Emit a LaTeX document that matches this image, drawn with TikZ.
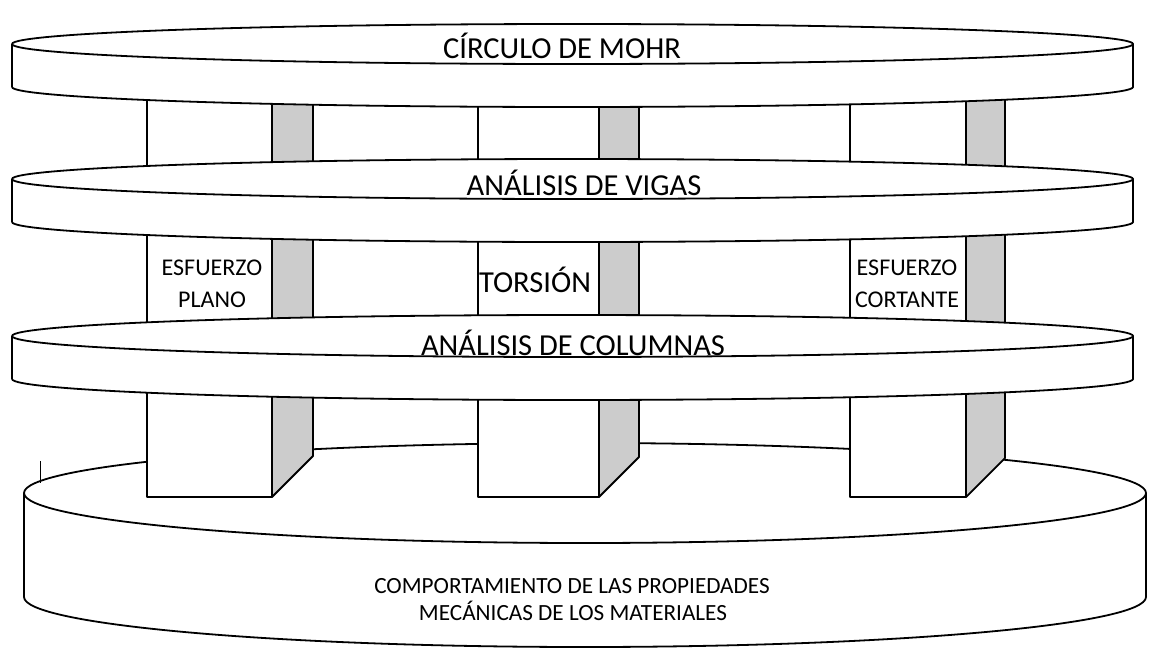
\documentclass[tikz,border=0pt]{standalone}
\usepackage{fontspec}
\setmainfont{Carlito}
\definecolor{sidegray}{HTML}{CCCCCC}
\newcommand\mydisk[5]{%
  \fill[white] (#1,#2+#5) ellipse[x radius=#3, y radius=#4];
  \fill[white] (#1-#3,#2) rectangle (#1+#3,#2+#5);
  \fill[white] (#1,#2) ellipse[x radius=#3, y radius=#4];
  \begin{scope}
    \clip (#1-#3-5,#2+#5) rectangle (#1+#3+5,#2+#5+#4+5);
    \draw[edge] (#1,#2+#5) ellipse[x radius=#3, y radius=#4];
  \end{scope}
  \draw[edge] (#1-#3,#2) -- (#1-#3,#2+#5) (#1+#3,#2) -- (#1+#3,#2+#5);
  \draw[edge] (#1,#2) ellipse[x radius=#3, y radius=#4];
}
\newcommand\mycol[3]{%
  \draw[sideface] (#2,90) -- (#3,90) -- (#3,497-#3+#2) -- (#2,497) -- cycle;
  \draw[front] (#1,90) rectangle (#2,497);
}
\begin{document}
\begin{tikzpicture}[x=1pt,y=-1pt,line join=round,
  edge/.style={draw=black,line width=1.8pt},
  sideface/.style={fill=sidegray,draw=black,line width=1.8pt},
  front/.style={fill=white,draw=black,line width=1.8pt},
  big/.style={font=\fontsize{30.5}{36}\selectfont,anchor=base,inner sep=0pt},
  mid/.style={font=\fontsize{24}{29}\selectfont,anchor=base,inner sep=0pt},
  low/.style={font=\fontsize{23.2}{28}\selectfont,anchor=base,inner sep=0pt}]
\useasboundingbox (0,0) rectangle (1169,659);
\fill[white] (0,0) rectangle (1169,659);
% base disk
\mydisk{585}{493}{561}{50}{104}
\draw[line width=0.8pt] (40,461) -- (40,483);
% columns
\mycol{147}{272}{313}
\mycol{478}{599}{639}
\mycol{850}{966}{1005}
% disks
\mydisk{572.5}{336}{560.5}{21}{43}
\mydisk{572.5}{179}{560.5}{20}{43}
\mydisk{572.5}{44}{560.5}{20}{43}
% labels
\node[big] (mohr) at (562,58) {CÍRCULO DE MOHR};
\node[big] (vigas) at (584,195) {ANÁLISIS DE VIGAS};
\node[big] (columnas) at (573,355) {ANÁLISIS DE COLUMNAS};
\node[big] (torsion) at (535,292) {TORSIÓN};
\node[mid] (plano1) at (212,275) {ESFUERZO};
\node[mid] (plano2) at (212,307) {PLANO};
\node[mid] (cort1) at (907,275) {ESFUERZO};
\node[mid] (cort2) at (907,307) {CORTANTE};
\node[low] (comp1) at (572,593) {COMPORTAMIENTO DE LAS PROPIEDADES};
\node[low] (comp2) at (573,620) {MECÁNICAS DE LOS MATERIALES};
\end{tikzpicture}
\end{document}
